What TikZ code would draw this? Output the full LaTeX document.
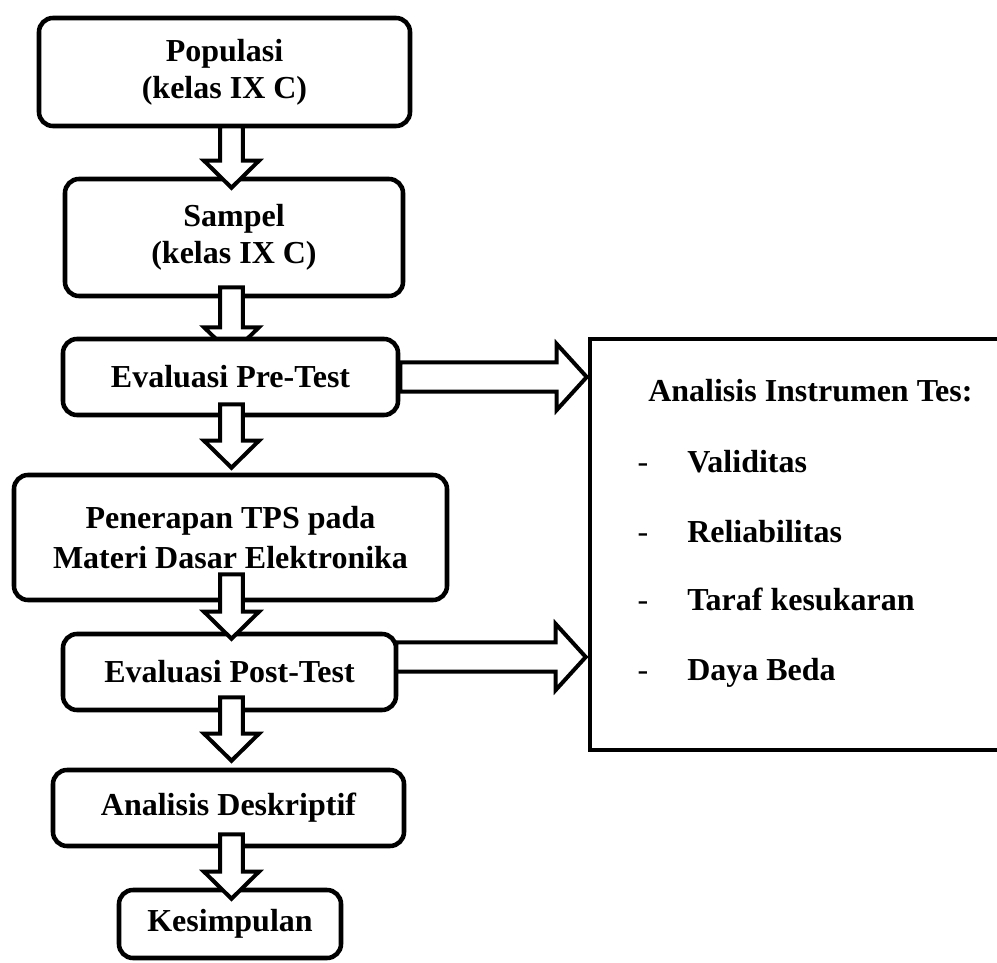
\documentclass[tikz,border=0pt]{standalone}
\usepackage{fontspec}
\setmainfont{Liberation Serif}
\usetikzlibrary{calc}
\tikzset{
  box/.style={draw, line width=3.4pt, rounded corners=10.5pt, fill=white, align=center, inner sep=0pt,
    font=\fontsize{24}{28}\selectfont\bfseries},
  blk/.style={draw, fill=white, line width=3pt, line join=miter},
  txt/.style={inner sep=0pt, font=\fontsize{24}{28}\selectfont\bfseries},
  dashst/.style={inner sep=0pt, font=\fontsize{24}{28}\selectfont},
  plainbox/.style={draw, line width=3.4pt, fill=white, inner sep=0pt},
}
% vertical block arrow: #1 start (shaft top centre), #2 tip
\newcommand\vblk[2]{\draw[blk] let \p1=(#1), \p2=(#2) in
  (\x1-8.6pt,\y1) -- (\x1+8.6pt,\y1) -- (\x1+8.6pt,\y2+20.25pt) -- (\x1+20.6pt,\y2+20.25pt)
  -- (\x1,\y2) -- (\x1-20.6pt,\y2+20.25pt) -- (\x1-8.6pt,\y2+20.25pt) -- cycle;}
% horizontal block arrow: #1 start (x used), #2 tip
\newcommand\hblk[2]{\draw[blk] let \p1=(#1), \p2=(#2) in
  (\x1,\y2+10.9pt) -- (\x2-22.5pt,\y2+10.9pt) -- (\x2-22.5pt,\y2+24.75pt) -- (\x2,\y2)
  -- (\x2-22.5pt,\y2-24.75pt) -- (\x2-22.5pt,\y2-10.9pt) -- (\x1,\y2-10.9pt) -- cycle;}
\begin{document}
\begin{tikzpicture}[x=0.75pt,y=-0.75pt]
\useasboundingbox (0,0) rectangle (997,963);
\clip (0,0) rectangle (997,963);
\coordinate (ax) at (231.5,0);

\node[box, minimum width=278.25pt, minimum height=81pt] (pop) at (224.5,72) {Populasi\\(kelas IX C)};
\node[box, minimum width=253.5pt, minimum height=87.75pt] (samp) at (234,237.5) {Sampel\\(kelas IX C)};

\coordinate (a1s) at ($(pop.south -| ax)+(0,-2)$);
\coordinate (a1e) at ($(samp.north -| ax)+(0,11)$);
\vblk{a1s}{a1e}

\coordinate (a2s) at ($(samp.south -| ax)+(0,-11)$);
\coordinate (a2e) at ($(samp.south -| ax)+(0,56)$);
\vblk{a2s}{a2e}

\node[box, minimum width=251.25pt, minimum height=57pt] (pre) at (230.5,377) {Evaluasi Pre-Test};
\node[box, minimum width=324.75pt, minimum height=93.75pt, font=\fontsize{24}{30}\selectfont\bfseries] (pen) at (230.5,537.5) {Penerapan TPS pada\\Materi Dasar Elektronika};

\coordinate (a3s) at ($(pre.south -| ax)+(0,-13)$);
\coordinate (a3e) at ($(pen.north -| ax)+(0,-5)$);
\vblk{a3s}{a3e}

\node[box, minimum width=249.75pt, minimum height=57pt] (post) at (229.5,672) {Evaluasi Post-Test};

\coordinate (a4s) at ($(pen.south -| ax)+(0,-28)$);
\coordinate (a4e) at ($(post.north -| ax)+(0,7)$);
\vblk{a4s}{a4e}

\node[box, minimum width=263.25pt, minimum height=57pt] (ad) at (228.5,808) {Analisis Deskriptif};

\coordinate (a5s) at ($(post.south -| ax)+(0,-15)$);
\coordinate (a5e) at ($(ad.north -| ax)+(0,-7)$);
\vblk{a5s}{a5e}

\node[box, minimum width=166.5pt, minimum height=51pt] (kes) at (230,924) {Kesimpulan};

\coordinate (a6s) at ($(ad.south -| ax)+(0,-14)$);
\coordinate (a6e) at ($(kes.north -| ax)+(0,11)$);
\vblk{a6s}{a6e}

\node[plainbox, minimum width=315pt, minimum height=308.25pt] (rb) at (800,544.5) {};

\coordinate (h1s) at (pre.east);
\coordinate (h1e) at ($(rb.west |- pre.east)+(-1,0)$);
\hblk{h1s}{h1e}

\coordinate (h2s) at ($(post.east)+(-2,-15)$);
\coordinate (h2e) at ($(rb.west |- post.east)+(-2,-15)$);
\hblk{h2s}{h2e}

\node[txt, anchor=base west] (t0) at (648,402) {Analisis Instrumen Tes:};
\node[dashst, anchor=base] (d1) at (643,472) {-};
\node[txt, anchor=base west] (t1) at (687,472) {Validitas};
\node[dashst, anchor=base] (d2) at (643,542) {-};
\node[txt, anchor=base west] (t2) at (687,542) {Reliabilitas};
\node[dashst, anchor=base] (d3) at (643,610) {-};
\node[txt, anchor=base west] (t3) at (687,610) {Taraf kesukaran};
\node[dashst, anchor=base] (d4) at (643,680) {-};
\node[txt, anchor=base west] (t4) at (687,680) {Daya Beda};
\end{tikzpicture}
\end{document}
